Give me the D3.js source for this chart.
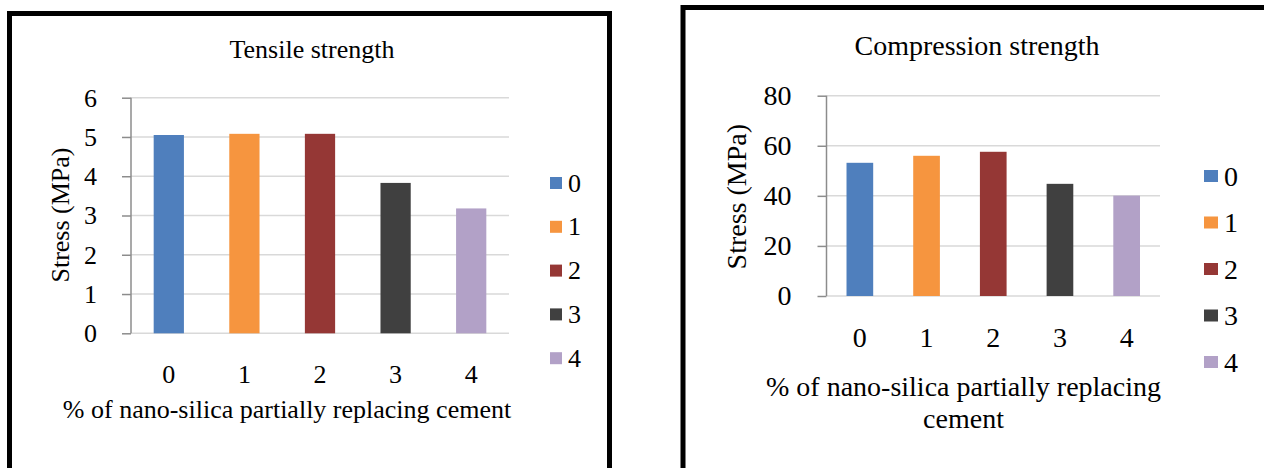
<!DOCTYPE html>
<html>
<head>
<meta charset="utf-8">
<script src="https://cdn.jsdelivr.net/npm/d3@7"></script>
<style>
  html, body { margin: 0; padding: 0; background: #ffffff; }
  svg { display: block; }
</style>
</head>
<body>
<svg id="fig" width="1264" height="468"></svg>
<script>
// Percentage of nano-silica replacing cement (x categories and legend entries)
const categories = ["0", "1", "2", "3", "4"];

// Tensile strength (MPa)
const tensileValues = [5.05, 5.08, 5.08, 3.83, 3.18];
const tensileTicks = [0, 1, 2, 3, 4, 5, 6];

// Compression strength (MPa)
const compressionValues = [53.2, 56.0, 57.6, 44.8, 40.1];
const compressionTicks = [0, 20, 40, 60, 80];

const barColors = ["#4f7fbd", "#f6953f", "#953735", "#404040", "#b2a1c7"];
const SERIF = "'Liberation Serif', 'Times New Roman', serif";

const svg = d3.select("#fig");

function label(sel, size) {
  return sel.style("font-family", SERIF).style("font-size", size + "px").style("fill", "#000");
}

function drawPanel(cfg) {
  const g = svg.append("g");

  // panel frame
  g.append("rect")
    .attr("x", cfg.frame.x).attr("y", cfg.frame.y)
    .attr("width", cfg.frame.w).attr("height", cfg.frame.h)
    .attr("fill", "#ffffff").attr("stroke", "#000").attr("stroke-width", 5);

  const x = d3.scaleBand().domain(categories)
    .range([cfg.plot.x0, cfg.plot.x1]).paddingInner(0.6).paddingOuter(0.3);
  const y = d3.scaleLinear().domain([0, d3.max(cfg.ticks)])
    .range([cfg.plot.y0, cfg.plot.y1]);

  // horizontal gridlines
  g.append("g").selectAll("line").data(cfg.ticks).join("line")
    .attr("x1", cfg.plot.x0).attr("x2", cfg.plot.x1)
    .attr("y1", d => y(d)).attr("y2", d => y(d))
    .attr("stroke", "#d9d9d9").attr("stroke-width", 1.5);

  // bars
  g.append("g").selectAll("rect").data(cfg.values).join("rect")
    .attr("x", (d, i) => x(categories[i]))
    .attr("width", x.bandwidth())
    .attr("y", d => y(d))
    .attr("height", d => y(0) - y(d))
    .attr("fill", (d, i) => barColors[i]);

  // y axis
  const yAxis = d3.axisLeft(y).tickValues(cfg.ticks).tickSize(9).tickPadding(cfg.tickPad)
    .tickFormat(d3.format("d"));
  const ya = g.append("g").attr("transform", `translate(${cfg.plot.x0},0)`).call(yAxis);
  ya.select(".domain").attr("stroke", "#8c8c8c").attr("stroke-width", 1.5)
    .attr("d", `M0,${cfg.plot.y1}V${cfg.plot.y0}`);
  ya.selectAll(".tick line").attr("stroke", "#8c8c8c").attr("stroke-width", 1.5);
  label(ya.selectAll(".tick text"), cfg.fs);

  // x category labels
  label(g.append("g").selectAll("text").data(categories).join("text")
    .attr("x", d => x(d) + x.bandwidth() / 2)
    .attr("y", cfg.plot.y0 + cfg.xLabelDy)
    .attr("text-anchor", "middle")
    .text(d => d), cfg.fs);

  // title
  label(g.append("text").attr("x", cfg.title.x).attr("y", cfg.title.y)
    .attr("text-anchor", "middle").text(cfg.title.text), cfg.titleFs);

  // y-axis title
  label(g.append("text")
    .attr("transform", `translate(${cfg.yTitle.x},${cfg.yTitle.y}) rotate(-90)`)
    .attr("text-anchor", "middle").attr("dominant-baseline", "central")
    .text("Stress (MPa)"), cfg.fs);

  // x-axis title (one or more lines)
  cfg.xTitle.lines.forEach((t, i) => {
    label(g.append("text").attr("x", cfg.xTitle.x).attr("y", cfg.xTitle.y + i * cfg.xTitle.lh)
      .attr("text-anchor", "middle").text(t), cfg.fs);
  });

  // legend
  const lg = g.append("g").selectAll("g").data(categories).join("g")
    .attr("transform", (d, i) => `translate(${cfg.legend.x},${cfg.legend.y + i * cfg.legend.step})`);
  lg.append("rect").attr("x", 0).attr("y", -6).attr("width", cfg.legend.sw).attr("height", 12)
    .attr("fill", (d, i) => barColors[i]);
  label(lg.append("text").attr("x", cfg.legend.sw + 6).attr("y", 0)
    .attr("dominant-baseline", "central").text(d => d), cfg.fs);
}

drawPanel({
  frame: { x: 9.5, y: 13.5, w: 600, h: 470 },
  plot: { x0: 131, x1: 509, y0: 333.3, y1: 97.7 },
  values: tensileValues, ticks: tensileTicks,
  fs: 26, titleFs: 26, xLabelDy: 50, tickPad: 25,
  title: { text: "Tensile strength", x: 312, y: 58 },
  yTitle: { x: 60, y: 215 },
  xTitle: { lines: ["% of nano-silica partially replacing cement"], x: 287, y: 418, lh: 0 },
  legend: { x: 550, y: 183, step: 43.8, sw: 12 }
});

drawPanel({
  frame: { x: 683, y: 7.5, w: 600, h: 480 },
  plot: { x0: 826.5, x1: 1160, y0: 296, y1: 95.7 },
  values: compressionValues, ticks: compressionTicks,
  fs: 28, titleFs: 28, xLabelDy: 51, tickPad: 26,
  title: { text: "Compression strength", x: 977, y: 55 },
  yTitle: { x: 736.5, y: 196.7 },
  xTitle: { lines: ["% of nano-silica partially replacing", "cement"], x: 963.5, y: 396, lh: 32 },
  legend: { x: 1204, y: 176, step: 46.5, sw: 14 }
});
</script>
</body>
</html>
